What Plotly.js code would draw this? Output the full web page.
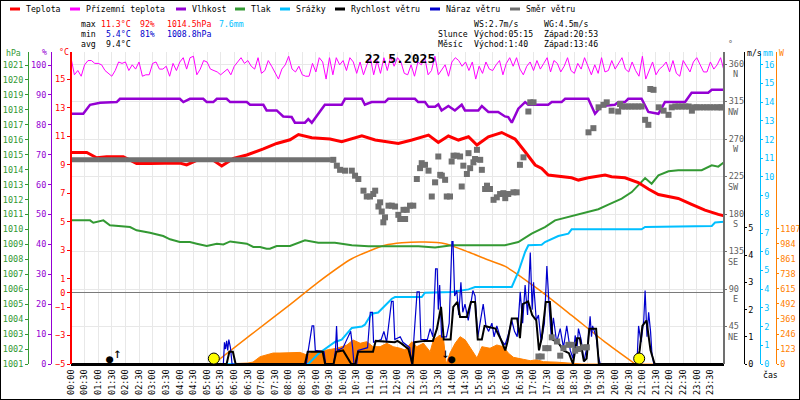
<!DOCTYPE html>
<html><head><meta charset="utf-8">
<script src="https://cdn.plot.ly/plotly-3.0.1.min.js"></script>
<style>html,body{margin:0;padding:0;background:#fff}#chart{width:800px;height:400px}</style>
</head><body><div id="chart"></div>
<script>
// ---------- data (hours of day 22.5.2025) ----------
const timeLabels = ['00:00','00:30','01:00','01:30','02:00','02:30','03:00','03:30','04:00','04:30','05:00','05:30','06:00','06:30','07:00','07:30','08:00','08:30','09:00','09:30','10:00','10:30','11:00','11:30','12:00','12:30','13:00','13:30','14:00','14:30','15:00','15:30','16:00','16:30','17:00','17:30','18:00','18:30','19:00','19:30','20:00','20:30','21:00','21:30','22:00','22:30','23:00','23:30'];
const timeTicks = [0,0.5,1,1.5,2,2.5,3,3.5,4,4.5,5,5.5,6,6.5,7,7.5,8,8.5,9,9.5,10,10.5,11,11.5,12,12.5,13,13.5,14,14.5,15,15.5,16,16.5,17,17.5,18,18.5,19,19.5,20,20.5,21,21.5,22,22.5,23,23.5];

// Teplota (°C)
const tempT = [0,0.58,0.94,1.31,1.92,2.41,2.9,3.39,4.0,4.25,4.62,5.23,5.54,5.97,6.46,7.07,7.56,8.05,8.36,8.85,9.52,9.95,10.69,11.18,12.03,12.53,13.14,13.5,13.87,14.24,14.61,14.92,15.34,15.83,16.32,16.69,17.06,17.3,17.54,18.4,18.65,19.01,19.63,19.87,20.36,20.85,21.22,21.59,22.32,22.81,23.3,23.79,24];
const tempV = [9.85,9.85,9.48,9.55,9.55,9.08,9.08,9.1,9.1,8.97,9.3,9.3,8.9,9.43,9.67,10.1,10.48,10.74,11.11,10.88,10.79,10.6,11.02,10.72,10.48,10.72,11.07,10.55,11.0,10.72,10.95,10.37,10.95,11.25,10.79,9.9,8.97,8.73,8.26,8.07,7.91,8.07,8.26,8.15,8.07,7.74,7.28,6.9,6.62,6.2,5.8,5.5,5.4];

// Přízemní teplota (°C), one reading every 7.5 minutes
const groundStepH = 0.125;
const groundV = [16.5,15.3,15.6,15.2,16.0,16.3,16.3,16.1,16.1,16.0,15.6,15.4,15.2,15.6,16.2,16.1,16.2,15.6,16.0,15.7,16.2,15.2,15.3,15.3,16.1,16.2,15.7,15.7,15.9,15.2,16.1,15.6,16.2,16.5,15.7,16.5,16.6,15.3,15.7,16.3,16.2,15.7,15.6,15.5,15.3,15.5,15.7,15.3,15.9,16.2,16.5,16.1,16.3,15.9,15.7,16.5,15.4,15.6,16.3,15.9,15.5,15.0,15.7,16.0,16.6,15.7,
15.5,15.9,15.3,15.2,15.2,16.1,15.5,16.5,16.2,15.0,16.5,15.3,16.5,16.0,16.3,15.6,16.5,16.2,15.4,16.2,15.3,16.0,16.5,15.3,16.3,15.4,16.5,15.6,16.6,15.9,16.5,16.2,15.4,15.3,16.0,15.2,16.2,16.0,16.5,15.3,15.6,16.6,15.3,15.7,16.0,15.2,16.2,16.5,16.3,15.9,16.2,15.6,16.2,15.0,15.9,15.4,16.2,15.7,15.6,16.0,16.3,15.3,16.1,16.5,
15.9,16.5,15.7,15.3,15.9,16.2,15.6,16.3,15.7,16.1,16.5,15.5,16.3,16.1,15.5,15.9,16.5,15.6,15.4,16.1,15.7,16.5,15.9,15.3,16.0,15.4,16.5,15.5,15.6,16.3,15.7,16.1,16.5,15.7,15.5,16.2,15.6,15.2,16.6,15.0,15.6,16.2,15.3,15.7,15.9,16.2,15.5,16.3,15.4,15.2,16.3,15.9,15.5,16.2,16.5,16.0,15.5,15.5,16.2,15.7,16.0,16.5,15.6];

// Vlhkost (%)
const humT = [0,0.45,0.7,1.07,1.68,1.8,4.0,4.13,4.37,4.86,4.99,5.23,5.36,5.72,5.85,6.46,6.58,7.07,7.19,7.56,7.8,8.11,8.23,8.6,8.72,8.85,9.09,9.33,9.95,10.07,10.69,10.8,11.05,11.54,11.66,12.64,12.76,13.01,13.14,13.38,13.5,13.62,13.87,14.11,14.36,14.48,14.97,15.1,15.34,15.7,15.95,16.07,16.2,16.44,16.69,16.81,17.54,17.67,18.03,18.16,19.01,19.26,19.5,19.99,20.12,20.36,20.48,20.97,21.22,21.59,21.83,22.57,22.81,23.42,23.55,24];
const humV = [83.7,83.7,86.7,87.4,87.6,88.7,88.7,87.6,88.7,88.7,87.6,87.6,88.7,88.7,87.6,87.6,86.7,86.7,84.8,84.8,82.8,82.6,80.7,80.7,81.9,80.7,83.7,86.7,86.7,88.7,88.7,86.7,87.6,87.6,88.7,88.7,87.6,87.6,86.0,86.0,86.8,84.8,86.3,84.8,86.7,84.8,84.8,86.3,84.3,84.3,82.8,82.6,80.7,85.4,87.6,86.7,86.7,87.6,87.6,88.7,88.7,83.7,86.3,86.7,87.6,87.6,88.7,88.7,84.3,83.7,87.6,87.6,90.7,90.7,91.7,91.7];

// Tlak (hPa)
const presT = [0,0.7,0.82,1.19,1.43,2.17,2.41,2.9,3.39,3.64,4.0,4.37,4.62,4.99,5.36,5.6,5.85,6.46,6.7,6.95,7.19,7.31,7.56,8.05,8.6,9.09,9.7,10.32,10.93,12.77,13.38,14.0,15.95,16.44,16.93,17.42,17.79,18.4,18.89,19.38,19.75,20.24,20.61,21.1,21.34,21.59,21.96,22.32,23.18,23.55,23.79,24];
const presV = [1010.61,1010.61,1010.45,1010.61,1010.28,1010.16,1009.94,1009.78,1009.56,1009.34,1009.16,1009.16,1009.05,1008.89,1009.05,1009.0,1009.2,1009.05,1008.83,1008.83,1008.71,1008.71,1008.89,1008.89,1009.27,1009.11,1009.11,1008.94,1008.87,1008.87,1008.8,1008.94,1008.94,1009.16,1009.72,1010.16,1010.61,1010.9,1011.12,1011.35,1011.66,1012.06,1012.5,1013.44,1013.06,1013.62,1013.89,1013.96,1013.96,1014.29,1014.2,1014.5];

// Srážky (mm, cumulative)
const rainT = [0,8.72,9.09,9.7,9.95,10.32,10.69,10.8,11.05,11.29,11.79,11.91,12.89,13.01,13.99,14.61,14.85,15.95,16.2,16.44,16.69,16.81,17.3,17.42,17.91,18.28,18.4,20.97,21.1,23.55,23.67,24];
const rainV = [0,0,0.55,1.18,1.3,1.93,2.0,2.1,2.69,2.75,3.49,3.58,3.58,3.81,3.85,3.99,4.12,4.12,4.12,4.92,5.99,6.35,6.38,6.52,6.84,6.97,7.2,7.2,7.33,7.38,7.56,7.6];

// Rychlost větru (m/s)
const windT = [0,5.72,5.82,5.95,6.05,8.6,8.7,9.25,9.34,9.65,9.75,10.0,10.3,10.45,10.55,11.1,11.2,11.9,12.0,12.15,12.4,12.55,12.62,13.0,13.3,13.45,13.6,13.7,13.95,14.05,14.2,14.3,14.55,14.7,14.85,14.95,15.1,15.2,15.6,15.8,15.96,16.05,16.2,16.4,16.5,16.6,16.8,16.95,17.1,17.2,17.3,17.45,17.6,17.7,17.9,18.1,18.3,18.45,18.6,18.7,18.85,18.95,19.05,19.3,19.4,20.8,20.9,21.0,21.15,21.3,21.45,24];
const windV = [0,0,0.45,0.45,0,0,0.45,0.45,0,0,0.45,0.5,0,0,0.45,0.45,0.85,0.8,0.85,0.75,0.55,0,0.8,0.85,0.85,1.3,2.1,0.9,0.9,2.1,2.28,1.73,1.73,2.28,2.28,0.9,0.9,1.4,1.3,0.9,0.5,0.85,1.67,1.67,0.95,2.2,2.3,1.8,1.6,0.5,0.95,2.28,2.28,0.9,0.8,0.5,0.4,0,0.95,0.95,0.1,0.2,1.3,1.3,0,0,0.5,1.4,1.6,0.5,0,0];

// Náraz větru (m/s)
const gustT = [0,5.6,5.64,5.68,5.72,5.76,5.8,5.86,5.92,8.65,8.72,8.86,8.92,8.98,9.3,9.36,9.65,9.72,9.76,9.8,10.0,10.28,10.35,10.4,10.5,10.55,10.9,11.0,11.08,11.12,11.4,11.5,11.6,11.78,11.84,11.9,12.1,12.2,12.45,12.52,12.6,12.72,12.8,12.86,13.1,13.2,13.3,13.4,13.46,13.5,13.55,13.62,13.8,13.9,14.0,14.04,14.1,14.18,14.25,14.33,14.4,14.48,14.6,14.77,14.85,14.95,15.15,15.25,15.35,15.47,15.55,15.65,15.8,15.95,16.05,16.2,16.3,16.4,16.51,16.6,16.69,16.78,16.88,16.95,17.0,17.1,17.18,17.28,17.4,17.49,17.58,17.65,17.73,17.85,17.98,18.1,18.22,18.35,18.45,18.53,18.6,18.65,18.75,18.85,19.0,19.08,19.13,19.17,19.3,19.39,19.45,20.8,20.86,20.95,21.05,21.1,21.17,21.23,21.3,21.35,21.42,24];
const gustV = [0,0,0.8,0.55,0.85,0.5,0.9,0.6,0,0,0.5,1.4,1.4,0.5,0.45,0,0,0.5,1.4,0.5,0.6,1.2,0.6,0,0,0.5,0.6,1.9,1.9,0.8,0.9,1.2,0.8,2.3,2.3,0.9,1.0,0.8,0.6,0,0.9,2.65,2.65,0.9,0.9,1.3,1.0,3.5,3.5,2.0,2.9,1.0,1.0,1.5,4.5,4.5,2.5,2.7,1.8,3.0,1.9,2.2,1.6,2.7,2.5,1.0,2.2,1.4,1.2,1.5,1.0,1.4,0.9,0.7,1.0,1.6,1.2,1.0,2.65,1.5,2.9,1.8,4.1,2.0,3.0,1.6,1.8,0.8,1.5,3.6,2.0,1.0,1.7,0.8,1.3,0.6,1.4,0.5,0.2,1.05,0.6,1.3,0.9,0.1,0.8,1.75,1.0,1.4,1.0,0.25,0,0,1.4,0.8,1.6,2.7,1.0,1.9,1.2,0.4,0,0];

// Směr větru (°): steady period, then single readings
const dirSteadyT = [0,9.55];
const dirSteadyV = [245,245];
const dirT = [9.64,9.77,9.89,10.07,10.32,10.44,10.56,10.75,10.87,10.99,11.11,11.18,11.3,11.36,11.42,11.48,11.54,11.67,11.79,11.91,12.03,12.1,12.22,12.28,12.34,12.46,12.58,12.71,12.83,12.89,13.01,13.14,13.26,13.38,13.5,13.57,13.63,13.75,13.81,13.93,13.99,14.06,14.18,14.3,14.36,14.42,14.55,14.61,14.67,14.79,14.85,14.92,15.04,15.1,15.22,15.29,15.4,15.53,15.65,15.77,15.89,15.96,16.07,16.26,16.38,16.5,16.63,16.81,16.88,17.0,17.18,17.3,17.43,17.55,17.67,17.86,17.98,18.1,18.28,18.4,18.53,18.65,18.83,18.96,19.02,19.2,19.39,19.57,19.69,19.87,20.11,20.18,20.37,20.61,20.85,20.97,21.1,21.22,21.29,21.41,21.6,21.78,21.96,22.08,22.21,22.45,22.7,22.82,23.0,23.25,23.49,23.74,23.92,20.25,20.49,20.73,22.33,22.58,22.9,23.12,23.37,23.62,23.86];
const dirV = [245,238,233,232,232,226,222,208,201,201,204,208,189,194,183,170,176,190,190,189,179,174,185,174,185,190,190,222,235,241,239,232,201,218,249,227,226,221,201,201,243,250,250,249,213,238,228,253,235,242,246,257,245,233,210,214,210,197,200,204,205,199,204,206,206,239,248,303,314,314,9,9,19,19,32,27,10,19,23,23,16,18,20,20,278,283,308,311,314,304,303,312,309,309,309,309,293,287,330,329,308,304,299,308,309,309,309,304,308,308,308,308,308,309,309,309,309,309,308,308,308,308,308];

// Sluneční záření (W/m²) measured and clear-sky curve
const solT = [0,5.9,5.96,6.5,6.69,6.95,7.43,7.68,8.16,8.42,8.67,8.9,9.4,9.77,10.14,10.37,10.63,10.87,11.1,11.36,11.61,11.84,12.1,12.28,12.53,12.71,12.95,13.2,13.32,13.57,13.69,13.79,13.93,14.12,14.3,14.49,14.73,14.92,15.1,15.4,15.65,15.89,16.08,16.26,16.63,16.88,17.12,17.36,17.86,18.47,18.78,24];
const solV = [0,0,3,8,16,60,90,90,95,95,74,101,115,129,156,197,170,183,142,142,170,142,129,115,183,142,170,101,197,238,210,0,90,170,224,197,115,49,142,129,156,142,88,55,38,27,35,19,15,6,0,0];
const clearT = [5.23,6.58,8.05,9.09,10.32,11.54,12.16,13.01,13.75,14.61,15.22,15.96,17.18,18.4,19.63,20.74];
const clearV = [0,234,487,672,863,973,994,1000,986,918,863,800,612,399,180,0];

// Sun / Moon events (hours)
const sunT = [5.25, 20.883];
const moonRiseT = 1.667;
const moonSetT = 13.767;

// axis ticks
const hpaTicks = [1001,1002,1003,1004,1005,1006,1007,1008,1009,1010,1011,1012,1013,1014,1015,1016,1017,1018,1019,1020,1021];
const humTicks = [0,10,20,30,40,50,60,70,80,90,100];
const tempTicks = [-5,-3,-1,0,1,3,5,7,9,11,13,15];
const dirTicks = [45,90,135,180,225,270,315,360];
const dirNames = ['NE','E','SE','S','SW','W','NW','N'];
const msTicks = [0,1,2,3,4,5];
const mmTicks = [0,1,2,3,4,5,6,7,8,9,10,11,12,13,14,15,16];
const wTicks = [0,123,246,369,492,615,738,861,984,1107];

// ---------- styling ----------
const FONT = 'DejaVu Sans Mono';
const C = {temp:'#ff0000', ground:'#ff00ff', hum:'#9400d3', pres:'#339933', rain:'#00bfff',
           wind:'#000000', gust:'#0000cd', dir:'#707070', sol:'#ff8000', grid:'#e8e8e8'};
const groundT = groundV.map((v,i)=>i*groundStepH);

const traces = [
  {x:solT, y:solV, yaxis:'y', type:'scatter', mode:'lines', fill:'tozeroy', fillcolor:C.sol, line:{color:C.sol,width:1}},
  {x:clearT, y:clearV, yaxis:'y', type:'scatter', mode:'lines', line:{color:C.sol,width:1.5,shape:'spline',smoothing:0.6}},
  {x:rainT, y:rainV, yaxis:'y2', type:'scatter', mode:'lines', line:{color:C.rain,width:2}},
  {x:presT, y:presV, yaxis:'y3', type:'scatter', mode:'lines', line:{color:C.pres,width:2}},
  {x:humT, y:humV, yaxis:'y4', type:'scatter', mode:'lines', line:{color:C.hum,width:2.5}},
  {x:groundT, y:groundV, yaxis:'y5', type:'scatter', mode:'lines', line:{color:C.ground,width:1}},
  {x:tempT, y:tempV, yaxis:'y5', type:'scatter', mode:'lines', line:{color:C.temp,width:3}},
  {x:gustT, y:gustV, yaxis:'y6', type:'scatter', mode:'lines', line:{color:C.gust,width:1.2}},
  {x:windT, y:windV, yaxis:'y6', type:'scatter', mode:'lines', line:{color:C.wind,width:2}},
  {x:sunT, y:[0.2,0.2], yaxis:'y6', type:'scatter', mode:'markers', marker:{color:'#ffff00',size:11,line:{color:'#000',width:1}}},
  {x:dirSteadyT, y:dirSteadyV, yaxis:'y7', type:'scatter', mode:'lines', line:{color:C.dir,width:5}},
  {x:dirT, y:dirV, yaxis:'y7', type:'scatter', mode:'markers', marker:{color:C.dir,size:6,symbol:'square'}}
];
traces.forEach(t=>{t.showlegend=false; t.hoverinfo='skip'; t.xaxis='x';});

const X0 = 71/800, X1 = 724/800;
const TS = 8.5;
const tf = (c)=>({family:FONT,size:TS,color:c});
function yax(o){ return Object.assign({anchor:'free', overlaying:'y', showgrid:false, zeroline:false,
  showline:true, linewidth:1, ticks:'outside', ticklen:3, tickmode:'array', fixedrange:true}, o); }

const layout = {
  width:800, height:400, paper_bgcolor:'#fff', plot_bgcolor:'#fff',
  margin:{l:0,r:0,t:0,b:0}, showlegend:false, hovermode:false,
  font:{family:FONT,size:TS,color:'#000'},
  title:{text:'<b>22.5.2025</b>', x:0.5, xanchor:'center', y:1-58/400, yanchor:'middle', font:{family:FONT,size:13,color:'#000'}},
  xaxis:{domain:[X0,X1], range:[0,24], anchor:'y', tickmode:'array', tickvals:timeTicks, ticktext:timeLabels,
         tickangle:-90, tickfont:tf('#000'), showgrid:true, gridcolor:C.grid, gridwidth:1, zeroline:false,
         showline:true, linecolor:'#000', linewidth:2, ticks:'', fixedrange:true},
  yaxis: Object.assign(yax({position:775.5/800, side:'right', linecolor:C.sol, tickcolor:C.sol, ticklen:2, tickvals:wTicks, tickfont:tf(C.sol), range:[0,2558]}), {overlaying:undefined, domain:[36/400,348/400]}),
  yaxis2: yax({position:759.5/800, side:'right', linecolor:C.rain, tickcolor:C.rain, ticklen:2, tickvals:mmTicks, tickfont:tf(C.rain), range:[0,16.68]}),
  yaxis3: yax({position:28/800, side:'left', linecolor:C.pres, tickcolor:C.pres, tickvals:hpaTicks, tickfont:tf(C.pres), range:[1001,1021.87]}),
  yaxis4: yax({position:51/800, side:'left', linecolor:C.hum, tickcolor:C.hum, tickvals:humTicks, tickfont:tf(C.hum), range:[0,104.35]}),
  yaxis5: yax({position:X0, side:'left', linecolor:C.temp, linewidth:2, tickcolor:C.temp, tickvals:tempTicks, tickfont:tf(C.temp), range:[-5,16.9],
               zeroline:true, zerolinecolor:'#7a7a7a', zerolinewidth:1}),
  yaxis6: yax({position:743.5/800, side:'right', linecolor:'#000', tickcolor:'#000', ticklen:2, tickvals:msTicks, tickfont:tf('#000'), range:[0,11.47]}),
  yaxis7: yax({position:X1, side:'right', linecolor:'#707070', linewidth:2, tickcolor:'#707070', ticklen:2, tickvals:dirTicks, tickfont:tf('#606060'), range:[0,374.4],
               showgrid:true, gridcolor:C.grid, gridwidth:1}),
  shapes:[], annotations:[]
};

const A = layout.annotations, S = layout.shapes;
const py = (p)=>1-p/400, px=(p)=>p/800;
function txt(x,y,t,c,o){ A.push(Object.assign({xref:'paper',yref:'paper',x:px(x),y:py(y),text:t,showarrow:false,
  xanchor:'left',yanchor:'middle',font:{family:FONT,size:8.2,color:c||'#000'}},o||{})); }

// legend
const legend = [[10,'Teplota',C.temp],[70,'Přízemní teplota',C.ground],[176,'Vlhkost',C.hum],[235,'Tlak',C.pres],
  [280,'Srážky',C.rain],[335,'Rychlost větru',C.wind],[430,'Náraz větru',C.gust],[510,'Směr větru',C.dir]];
legend.forEach(([x,n,c])=>{
  S.push({type:'line',xref:'paper',yref:'paper',x0:px(x),x1:px(x+10),y0:py(9),y1:py(9),line:{color:c,width:3}});
  txt(x+14,9,n,'#000');
});
// stats
txt(79,24,'max'); txt(99,24,'11.3°C',C.temp); txt(138,24,'92%',C.temp); txt(165,24,'1014.5hPa',C.temp); txt(217,24,'7.6mm',C.rain);
txt(79,34,'min'); txt(104,34,'5.4°C','#0000cc'); txt(138,34,'81%','#0000cc'); txt(165,34,'1008.8hPa','#0000cc');
txt(79,44,'avg'); txt(104,44,'9.4°C');
txt(472,24,'WS:2.7m/s'); txt(542,24,'WG:4.5m/s');
txt(436,34,'Slunce'); txt(472,34,'Východ:05:15'); txt(542,34,'Západ:20:53');
txt(436,44,'Měsíc'); txt(472,44,'Východ:1:40'); txt(542,44,'Západ:13:46');
// axis units
txt(4,53,'hPa',C.pres); txt(40,52,'%',C.hum); txt(57,52,'°C',C.temp);
txt(726,44,'°','#606060'); txt(745,53,'m/s','#000'); txt(761,53,'mm',C.rain); txt(777,53,'W',C.sol);
txt(761,375,'čas','#000');
// direction names under degree labels
dirTicks.forEach((v,i)=>{
  const n = dirNames[i].length===1 ? '\u00a0'+dirNames[i] : dirNames[i];
  A.push({xref:'paper',yref:'y7',x:X1,y:v,xshift:2,yshift:-10,text:n,showarrow:false,xanchor:'left',yanchor:'middle',
          font:{family:FONT,size:TS,color:'#606060'}});
});
// moon rise / set
A.push({xref:'x',yref:'y6',x:moonRiseT,y:0.2,xshift:-6,text:'●',showarrow:false,font:{family:FONT,size:12,color:'#000'}});
A.push({xref:'x',yref:'y6',x:moonRiseT,y:0.4,xshift:1,text:'↑',showarrow:false,font:{family:FONT,size:14,color:'#000'}});
A.push({xref:'x',yref:'y6',x:moonSetT,y:0.2,xshift:6,text:'●',showarrow:false,font:{family:FONT,size:12,color:'#000'}});
A.push({xref:'x',yref:'y6',x:moonSetT,y:0.4,xshift:-1,text:'↓',showarrow:false,font:{family:FONT,size:14,color:'#000'}});
// frame
S.push({type:'rect',xref:'paper',yref:'paper',x0:0,x1:1,y0:0,y1:1,line:{color:'#000',width:2}});

Plotly.newPlot('chart', traces, layout, {staticPlot:true, displayModeBar:false});
</script></body></html>
